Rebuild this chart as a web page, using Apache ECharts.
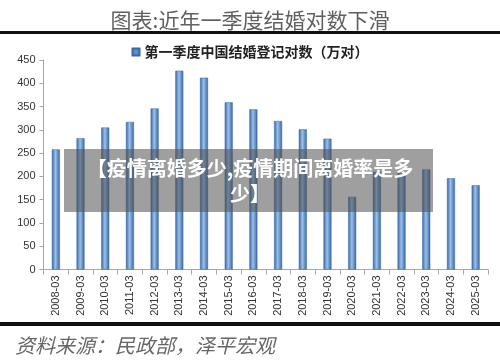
<!DOCTYPE html>
<html>
<head>
<meta charset="utf-8">
<script src="https://cdn.jsdelivr.net/npm/echarts@6/dist/echarts.min.js"></script>
<style>
html,body{margin:0;padding:0;background:#fff;}
#c{width:500px;height:361px;}
</style>
</head>
<body>
<div id="c"></div>
<script>
const categories = ['2008-03','2009-03','2010-03','2011-03','2012-03','2013-03','2014-03','2015-03','2016-03','2017-03','2018-03','2019-03','2020-03','2021-03','2022-03','2023-03','2024-03','2025-03'];
const marriages = [258, 282, 305, 317, 346, 427, 412, 359, 344, 319, 301, 281, 156, 210, 208, 215, 196, 181];
const seriesName = '第一季度中国结婚登记对数（万对）';
const titleText = '图表:近年一季度结婚对数下滑';
const sourceText = '资料来源：民政部，泽平宏观';
const overlayText = '【疫情离婚多少,疫情期间离婚率是多\n少】';
const yTicks = {min: 0, max: 450, interval: 50};

const chart = echarts.init(document.getElementById('c'), null, {renderer: 'canvas'});
const barGrad = new echarts.graphic.LinearGradient(0, 0, 1, 0, [
  {offset: 0, color: '#3565a0'},
  {offset: 0.45, color: '#9cc0ea'},
  {offset: 1, color: '#3565a0'}
]);
chart.setOption({
  animation: false,
  backgroundColor: '#fff',
  title: {
    text: titleText,
    left: 'center',
    top: 5,
    textStyle: {fontFamily: 'Noto Sans CJK SC', fontSize: 21, fontWeight: 'normal', color: '#606060'}
  },
  legend: {
    top: 40,
    left: 'center',
    itemWidth: 7,
    itemHeight: 7,
    itemGap: 5,
    icon: 'rect',
    textStyle: {fontFamily: 'Noto Sans CJK SC', fontSize: 14, fontWeight: 'bold', color: '#222'},
    data: [{name: seriesName, itemStyle: {color: '#5b8ccc'}}]
  },
  grid: {left: 43.5, right: 12, top: 60, bottom: 91.5, containLabel: false},
  xAxis: {
    type: 'category',
    data: categories,
    axisLine: {lineStyle: {color: '#a6a6a6'}},
    axisTick: {show: true, alignWithLabel: false, length: 5, lineStyle: {color: '#a6a6a6'}},
    axisLabel: {rotate: 90, fontSize: 11, color: '#333', fontFamily: 'Liberation Sans', margin: 6, interval: 0}
  },
  yAxis: {
    type: 'value',
    min: yTicks.min, max: yTicks.max, interval: yTicks.interval,
    splitLine: {show: false},
    axisLine: {show: true, lineStyle: {color: '#a6a6a6'}},
    axisTick: {show: true, length: 4, lineStyle: {color: '#a6a6a6'}},
    axisLabel: {fontSize: 11, color: '#333', fontFamily: 'Liberation Sans', margin: 8}
  },
  series: [{
    name: seriesName,
    type: 'bar',
    data: marriages,
    barWidth: 8,
    itemStyle: {color: barGrad, borderColor: '#3a6aa6', borderWidth: 0.5}
  }],
  graphic: [
    {type: 'rect', shape: {x: 0, y: 31, width: 500, height: 3}, style: {fill: '#111'}, z: 100},
    {type: 'rect', shape: {x: 0, y: 322, width: 500, height: 4}, style: {fill: '#111'}, z: 100},
    {type: 'rect', shape: {x: 64, y: 149, width: 369, height: 63}, style: {fill: 'rgba(80,80,80,0.55)'}, z: 100},
    {type: 'text', x: 250, y: 180.5, z: 101,
      style: {text: overlayText, fill: '#fff', fontFamily: 'Noto Sans CJK SC', fontSize: 20, fontWeight: 'bold',
        align: 'center', verticalAlign: 'middle', lineHeight: 25}},
    {type: 'text', x: 15, y: 345, z: 101,
      style: {text: sourceText, fill: '#666', fontFamily: 'Noto Sans CJK SC', fontSize: 20, fontStyle: 'italic',
        align: 'left', verticalAlign: 'middle'}}
  ]
});
</script>
</body>
</html>
